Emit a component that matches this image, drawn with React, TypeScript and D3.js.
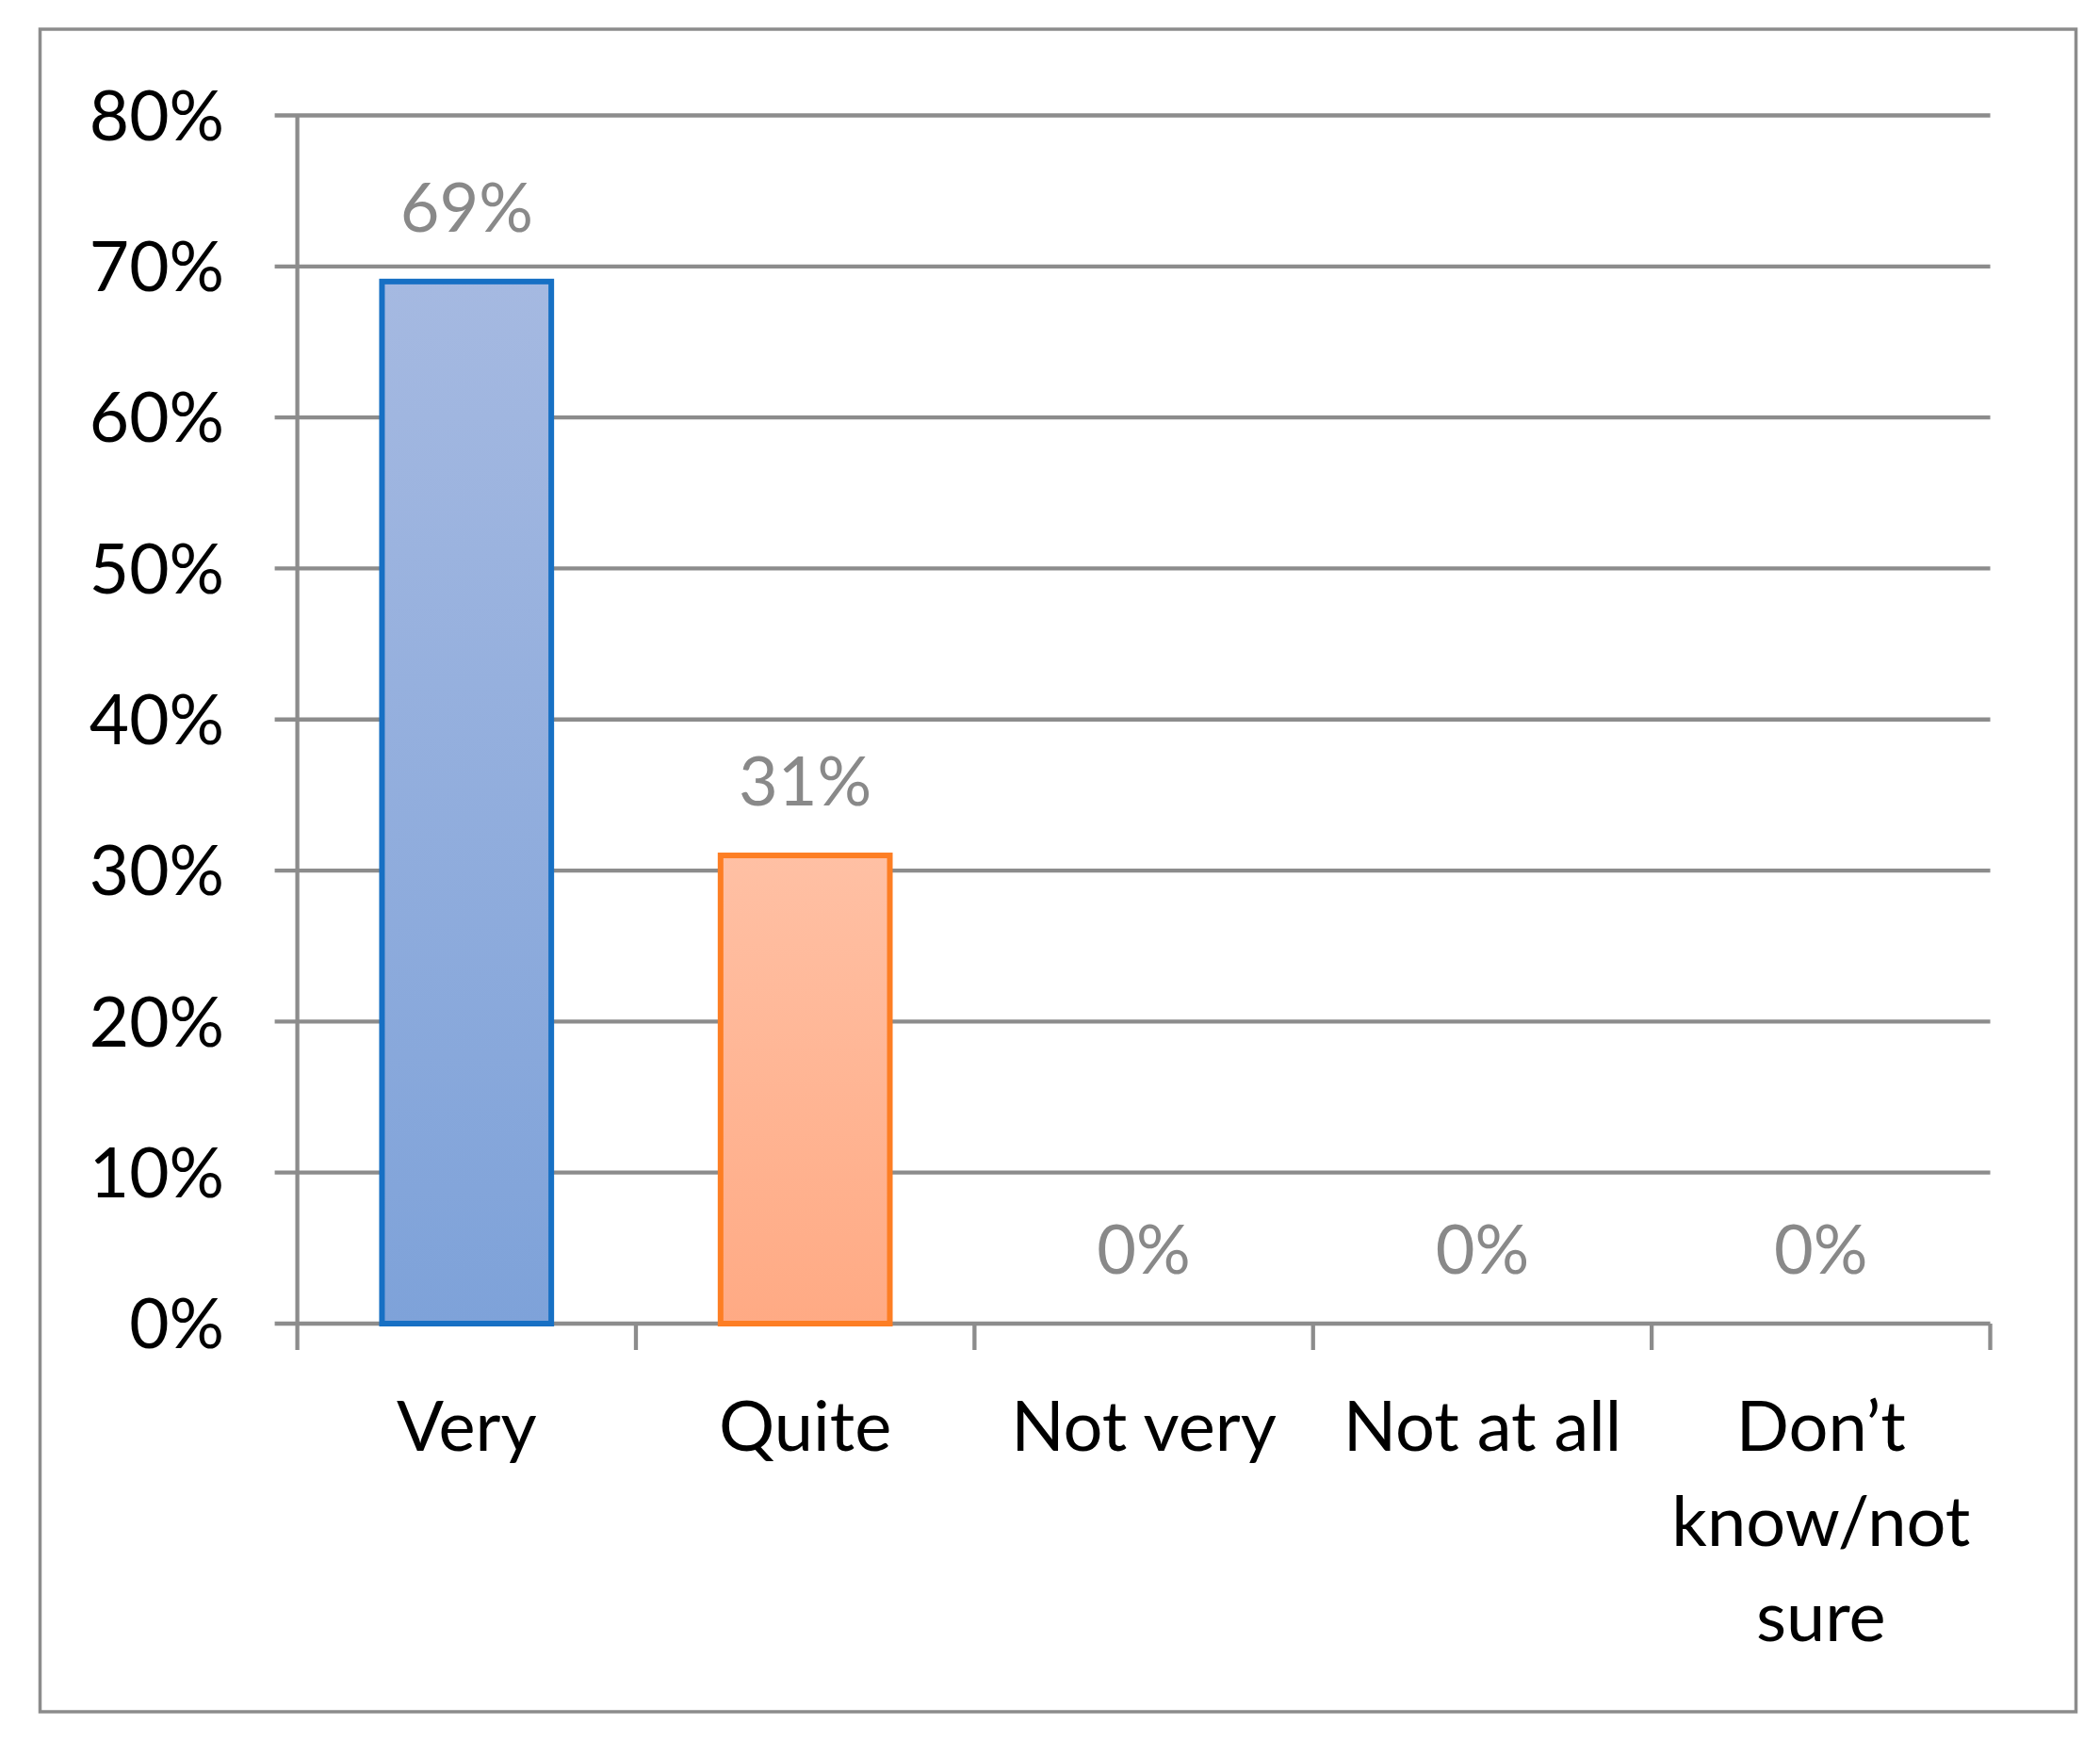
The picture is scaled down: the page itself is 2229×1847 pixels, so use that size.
import React from 'react';
import * as d3 from 'd3';

const categories = ['Very', 'Quite', 'Not very', 'Not at all', 'Don’t know/not sure'];
const labelLines = [['Very'], ['Quite'], ['Not very'], ['Not at all'], ['Don’t', 'know/not', 'sure']];
const values = [0.69, 0.31, 0, 0, 0];
const yTicks = [0, 0.1, 0.2, 0.3, 0.4, 0.5, 0.6, 0.7, 0.8];

const W = 2229;
const H = 1847;
const GRID = '#8c8c8c';
const FONT = 'Lato, "Open Sans", sans-serif';

const fills = [
  { stroke: '#1770c4', top: '#a5b9e1', bottom: '#7ea2d9' },
  { stroke: '#fd7e24', top: '#ffc0a4', bottom: '#ffaa84' },
];

export default function App() {
  const left = 315.6;
  const right = 2112.5;
  const x = d3.scaleBand<string>().domain(categories).range([left, right]).paddingInner(0.5).paddingOuter(0.25);
  const y = d3.scaleLinear().domain([0, 0.8]).range([1405, 122.5]);
  const step = x.step();
  const fmt = d3.format('.0%');

  return (
    <svg width={W} height={H} style={{ position: 'absolute', left: 0, top: 0, background: '#fff' }}>
      <defs>
        {fills.map((f, i) => (
          <linearGradient key={i} id={`g${i}`} x1="0" y1="0" x2="0" y2="1">
            <stop offset="0" stopColor={f.top} />
            <stop offset="1" stopColor={f.bottom} />
          </linearGradient>
        ))}
      </defs>
      <rect x={42.5} y={31} width={2203.5 - 42.5} height={1817 - 31} fill="#fff" stroke={GRID} strokeWidth={3.5} />

      {/* gridlines + y labels */}
      {yTicks.map(t => (
        <g key={t}>
          <line x1={left - 24} x2={right} y1={y(t)} y2={y(t)} stroke={GRID} strokeWidth={4.3} />
          <text x={238} y={y(t)} dy="0.36em" textAnchor="end" fontFamily={FONT} fontSize={73} fill="#000">
            {fmt(t)}
          </text>
        </g>
      ))}
      <line x1={left} x2={left} y1={y(0.8)} y2={y(0) + 28} stroke={GRID} strokeWidth={4.3} />
      {categories.map((c, i) => (
        <line key={c} x1={left + step * (i + 1)} x2={left + step * (i + 1)} y1={y(0)} y2={y(0) + 28} stroke={GRID} strokeWidth={4.3} />
      ))}

      {/* bars */}
      {categories.map((c, i) =>
        values[i] > 0 ? (
          <rect
            key={c}
            x={x(c)}
            y={y(values[i])}
            width={x.bandwidth()}
            height={y(0) - y(values[i])}
            fill={`url(#g${i})`}
            stroke={fills[i].stroke}
            strokeWidth={6}
          />
        ) : null,
      )}

      {/* data labels */}
      {categories.map((c, i) => (
        <text
          key={c}
          x={(x(c) ?? 0) + x.bandwidth() / 2}
          y={y(values[i]) - 53}
          textAnchor="middle"
          fontFamily={FONT}
          fontSize={72}
          fill="#898989"
        >
          {fmt(values[i])}
        </text>
      ))}

      {/* category labels */}
      {categories.map((c, i) => (
        <text key={c} textAnchor="middle" fontFamily={FONT} fontSize={74} fill="#000">
          {labelLines[i].map((l, j) => (
            <tspan key={j} x={(x(c) ?? 0) + x.bandwidth() / 2} y={1540 + j * 101}>
              {l}
            </tspan>
          ))}
        </text>
      ))}
    </svg>
  );
}
